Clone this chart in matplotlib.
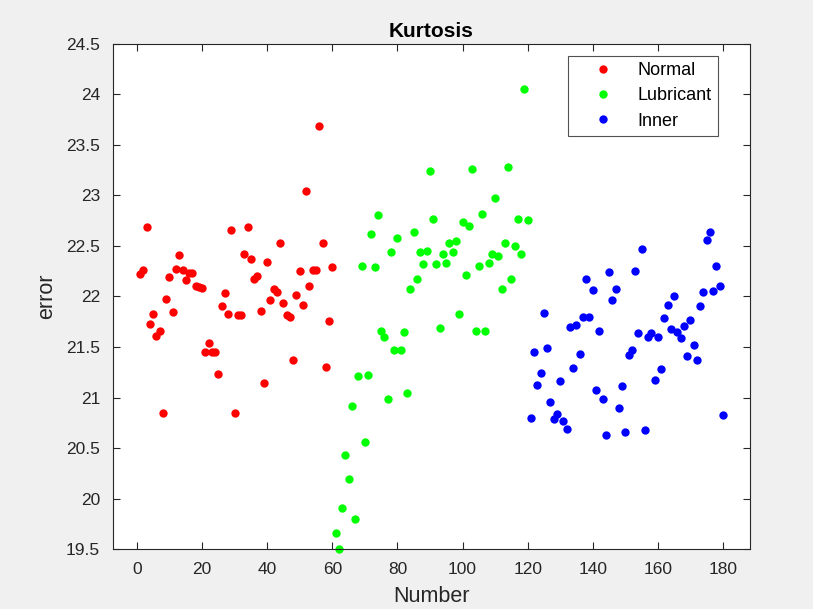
import matplotlib
matplotlib.use("Agg")
import matplotlib.pyplot as plt
import numpy as np

plt.rcParams['font.family'] = ['Liberation Sans', 'DejaVu Sans']

normal_x = list(range(1, 61))
normal_y = [22.22, 22.26, 22.69, 21.73, 21.83, 21.61, 21.66, 20.85, 21.98, 22.19,
            21.85, 22.27, 22.41, 22.26, 22.16, 22.23, 22.23, 22.10, 22.09, 22.08,
            21.45, 21.54, 21.45, 21.45, 21.23, 21.91, 22.03, 21.83, 22.66, 20.85,
            21.82, 21.82, 22.42, 22.69, 22.37, 22.17, 22.20, 21.86, 21.14, 22.34,
            21.97, 22.07, 22.04, 22.53, 21.94, 21.82, 21.80, 21.37, 22.01, 22.25,
            21.92, 23.04, 22.10, 22.26, 22.26, 23.69, 22.53, 21.30, 21.76, 22.29]

lub_x = list(range(61, 121))
lub_y = [19.66, 19.50, 19.91, 20.43, 20.19, 20.92, 19.80, 21.21, 22.30, 20.56,
         21.22, 22.62, 22.29, 22.81, 21.66, 21.60, 20.99, 22.44, 21.47, 22.58,
         21.47, 21.65, 21.04, 22.07, 22.64, 22.17, 22.44, 22.32, 22.45, 23.24,
         22.77, 22.32, 21.69, 22.42, 22.33, 22.53, 22.44, 22.55, 21.83, 22.74,
         22.21, 22.70, 23.26, 21.66, 22.30, 22.82, 21.66, 22.33, 22.42, 22.98,
         22.40, 22.07, 22.53, 23.28, 22.17, 22.50, 22.77, 22.42, 24.05, 22.76]

inner_x = list(range(121, 181))
inner_y = [20.80, 21.45, 21.12, 21.24, 21.84, 21.49, 20.96, 20.79, 20.84, 21.16,
           20.77, 20.69, 21.70, 21.29, 21.72, 21.43, 21.80, 22.17, 21.80, 22.06,
           21.07, 21.66, 20.99, 20.63, 22.24, 21.97, 22.07, 20.90, 21.11, 20.66,
           21.42, 21.47, 22.25, 21.64, 22.47, 20.68, 21.60, 21.64, 21.17, 21.60,
           21.28, 21.79, 21.92, 21.68, 22.00, 21.65, 21.59, 21.71, 21.41, 21.77,
           21.52, 21.37, 21.91, 22.04, 22.56, 22.64, 22.05, 22.30, 22.10, 20.83]

labels = ['Normal', 'Lubricant', 'Inner']
colors = ['#ff0000', '#00ff00', '#0000ff']
ytick_labels = ['19.5', '20', '20.5', '21', '21.5', '22', '22.5', '23', '23.5', '24', '24.5']

fig = plt.figure(figsize=(8.13, 6.09), dpi=100, facecolor='#f0f0f0')
ax = fig.add_axes([0.1384, 0.0985, 0.7841, 0.8293])
ax.set_facecolor('white')

for xs, ys, lab, c in zip([normal_x, lub_x, inner_x], [normal_y, lub_y, inner_y], labels, colors):
    ax.plot(xs, ys, 'o', color=c, markersize=6, markeredgewidth=0, label=lab, clip_on=False)

ax.set_xlim(-7.5, 188.3)
ax.set_ylim(19.5, 24.5)
ax.set_xticks(np.arange(0, 181, 20))
ax.set_yticks(np.arange(19.5, 24.51, 0.5))
ax.set_yticklabels(ytick_labels)
ax.tick_params(direction='in', top=True, right=True, length=5, width=0.8,
               labelsize=12.5, colors='#262626', pad=9)
for s in ax.spines.values():
    s.set_color('#262626')
    s.set_linewidth(0.8)

ax.set_title('Kurtosis', fontsize=15, fontweight='bold', pad=5)
ax.set_xlabel('Number', fontsize=15.5, color='#262626', labelpad=6.5)
ax.set_ylabel('error', fontsize=15.5, color='#262626', labelpad=6)

leg = ax.legend(loc='upper right', bbox_to_anchor=(0.9498, 0.9762), fontsize=13,
                frameon=True, fancybox=False, edgecolor='#262626', handletextpad=0.3,
                borderpad=0.35, labelspacing=0.45, handlelength=3.2, borderaxespad=0)
leg.get_frame().set_linewidth(0.8)

fig.savefig('out.png', dpi=100, facecolor=fig.get_facecolor())
